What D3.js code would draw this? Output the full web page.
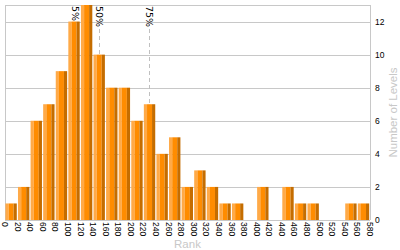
<!DOCTYPE html>
<html>
<head>
<meta charset="utf-8">
<script src="https://d3js.org/d3.v7.min.js"></script>
<style>
 body { margin: 0; background: #fff; }
 .tick-label { font: 8.5px "Liberation Sans", Arial, sans-serif; fill: #000; }
 .pct-label { font: 9.5px "DejaVu Sans", Verdana, sans-serif; fill: #000; }
 .title { font: 11.5px "Liberation Sans", Arial, sans-serif; fill: #c8c8c8; }
 .grid { stroke: #c8c8c8; stroke-width: 1; shape-rendering: crispEdges; }
</style>
</head>
<body>
<div id="chart"></div>
<script>
// histogram bins (start of each 20-rank bin) and counts
var binStarts = [0,20,40,60,80,100,120,140,160,180,200,220,240,260,280,300,320,340,360,380,400,420,440,460,480,500,520,540,560];
var counts    = [1,2,6,7,9,12,13,10,8,8,6,7,4,5,2,3,2,1,1,0,2,0,2,1,1,0,0,1,1];
var binWidth = 20;

var xTicks = [0,20,40,60,80,100,120,140,160,180,200,220,240,260,280,300,320,340,360,380,400,420,440,460,480,500,520,540,560,580];
var yTicks = [0,2,4,6,8,10,12];

var percentiles = ["5%", "50%", "75%"];
var percentileRanks = [111, 150, 229];

var W = 400, H = 250;
var pLeft = 5, pRight = 370, pTop = 5, pBottom = 220;

var svg = d3.select("#chart").append("svg")
  .attr("width", W)
  .attr("height", H);

var x = d3.scaleLinear().domain([0, 580]).range([pLeft, pRight]);
var y = d3.scaleLinear().domain([0, 13]).range([pBottom, pTop]);

// grid
svg.selectAll("line.h").data(yTicks.concat([13])).enter().append("line")
  .attr("class", "grid")
  .attr("x1", pLeft).attr("x2", pRight)
  .attr("y1", function(d){ return Math.round(y(d)) + 0.5; })
  .attr("y2", function(d){ return Math.round(y(d)) + 0.5; });
svg.selectAll("line.v").data([0, 580]).enter().append("line")
  .attr("class", "grid")
  .attr("x1", function(d){ return Math.round(x(d)) + 0.5; })
  .attr("x2", function(d){ return Math.round(x(d)) + 0.5; })
  .attr("y1", pTop).attr("y2", pBottom);

// percentile markers (behind bars)
var pct = svg.selectAll("g.pct").data(percentiles).enter().append("g")
  .attr("class", "pct");
pct.append("line")
  .attr("x1", function(d, i){ return Math.round(x(percentileRanks[i])) + 0.5; })
  .attr("x2", function(d, i){ return Math.round(x(percentileRanks[i])) + 0.5; })
  .attr("y1", 29).attr("y2", pBottom)
  .attr("stroke", "#c0c0c0")
  .attr("stroke-dasharray", "4,3");
pct.append("text")
  .attr("class", "pct-label")
  .attr("transform", function(d, i){ return "translate(" + x(percentileRanks[i]) + "," + (pTop + 1) + ") rotate(90)"; })
  .attr("dy", "0.35em")
  .text(function(d){ return d; });

// bars with 3-tone shading
var step = x(binWidth) - x(0);
var bw = step - 1.2;
var bars = svg.selectAll("g.bar").data(binStarts).enter().append("g")
  .attr("class", "bar")
  .attr("transform", function(d){ return "translate(" + (x(d) + 0.4) + ",0)"; });
var parts = [[0, 0.28, "#ffaa48"], [0.28, 0.72, "#ff8c00"], [0.72, 1, "#c56d00"]];
parts.forEach(function(p){
  bars.append("rect")
    .attr("x", bw * p[0])
    .attr("width", bw * (p[1] - p[0]))
    .attr("y", function(d, i){ return y(counts[i]); })
    .attr("height", function(d, i){ return pBottom - y(counts[i]); })
    .attr("fill", p[2]);
});

// x tick labels
svg.selectAll("text.xt").data(xTicks).enter().append("text")
  .attr("class", "tick-label")
  .attr("transform", function(d){ return "translate(" + x(d) + "," + (pBottom + 2) + ") rotate(90)"; })
  .attr("dy", "0.35em")
  .text(function(d){ return d; });

// y tick labels (right side)
svg.selectAll("text.yt").data(yTicks).enter().append("text")
  .attr("class", "tick-label")
  .attr("x", pRight + 5)
  .attr("y", function(d){ return y(d); })
  .attr("dy", "0.35em")
  .text(function(d){ return d; });

// titles
svg.append("text")
  .attr("class", "title")
  .attr("x", (pLeft + pRight) / 2)
  .attr("y", 248)
  .attr("text-anchor", "middle")
  .text("Rank");
svg.append("text")
  .attr("class", "title")
  .attr("transform", "translate(397," + ((pTop + pBottom) / 2) + ") rotate(-90)")
  .attr("text-anchor", "middle")
  .text("Number of Levels");
</script>
</body>
</html>
